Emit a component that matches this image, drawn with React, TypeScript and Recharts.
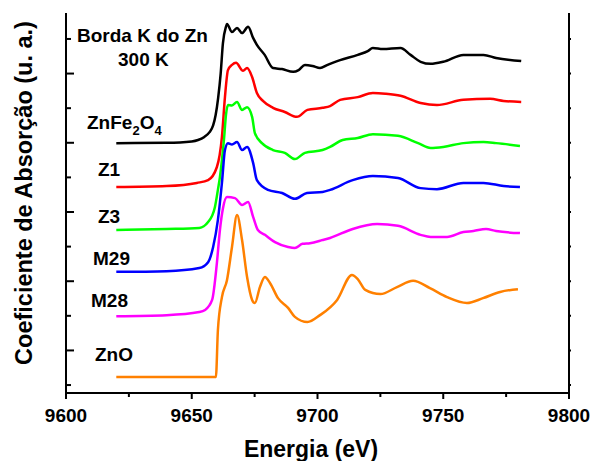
import React from 'react';
import { LineChart, Line, XAxis, YAxis } from 'recharts';

const FONT = '"Liberation Sans", Arial, Helvetica, sans-serif';

// energia (eV) x coeficiente de absorção normalizado, já deslocado (u. a.)
const zfE = [9620, 9640, 9650, 9652.5, 9655, 9657, 9658.5, 9659.5, 9660.5, 9661.5, 9662.4, 9663.6, 9664, 9666, 9668, 9670, 9672.4, 9674.4, 9675.9, 9679, 9682.3, 9685.9, 9690.3, 9692.5, 9695, 9698, 9701, 9704, 9709, 9716, 9720, 9722, 9726, 9733, 9737, 9741, 9745, 9750, 9758, 9766, 9771, 9781];
const zfMu = [6.99, 7.0, 7.04, 7.08, 7.17, 7.3, 7.5, 7.8, 8.3, 9.0, 9.88, 10.35, 10.43, 10.2, 10.32, 10.17, 10.35, 10.03, 9.83, 9.54, 9.16, 9.13, 9.05, 9.1, 9.25, 9.22, 9.16, 9.25, 9.39, 9.54, 9.65, 9.74, 9.71, 9.74, 9.54, 9.34, 9.28, 9.34, 9.54, 9.54, 9.45, 9.36];

const z1E = [9620, 9640, 9652, 9656.5, 9660, 9662, 9663.2, 9664.4, 9666, 9667.6, 9670.4, 9672, 9674, 9675.9, 9678.3, 9682.3, 9687, 9691.8, 9696, 9702, 9705, 9709, 9716, 9722, 9727, 9733, 9741, 9747.5, 9758, 9768.6, 9774, 9781];
const z1Mu = [5.72, 5.75, 5.84, 5.92, 6.3, 7.17, 8.32, 9.1, 9.25, 9.31, 9.08, 9.16, 8.9, 8.44, 8.21, 8.01, 7.89, 7.75, 7.95, 8.01, 8.06, 8.24, 8.32, 8.44, 8.42, 8.36, 8.15, 8.09, 8.24, 8.27, 8.21, 8.18];

const z3E = [9620, 9640, 9653, 9656.5, 9659.2, 9660.4, 9661.2, 9662, 9662.8, 9663.6, 9664.4, 9666, 9668, 9670, 9672, 9674, 9675.1, 9677.9, 9682.3, 9687, 9691, 9695, 9702, 9705, 9710, 9716, 9722, 9732, 9740, 9745, 9750, 9758, 9766, 9771, 9780.5];
const z3Mu = [4.48, 4.51, 4.54, 4.71, 5.14, 5.64, 6.01, 6.5, 7.08, 7.8, 8.09, 8.08, 8.18, 7.95, 8.03, 7.75, 7.28, 6.99, 6.79, 6.71, 6.53, 6.71, 6.79, 6.88, 7.08, 7.14, 7.25, 7.2, 6.99, 6.85, 6.88, 6.99, 7.02, 6.99, 6.91];

const m29E = [9620, 9640, 9653, 9656.5, 9658.5, 9660.4, 9662, 9663.2, 9664.4, 9666, 9668, 9670, 9672, 9674.4, 9675.9, 9680.3, 9685.9, 9691, 9695.8, 9702, 9705, 9714, 9722, 9732, 9741, 9747.5, 9758, 9766, 9774, 9780.5];
const m29Mu = [3.27, 3.29, 3.38, 3.55, 3.99, 4.77, 5.84, 6.79, 6.99, 6.95, 7.02, 6.79, 6.88, 6.42, 5.92, 5.64, 5.55, 5.38, 5.55, 5.58, 5.64, 5.92, 6.04, 5.98, 5.69, 5.66, 5.84, 5.84, 5.75, 5.72];

const m28E = [9620, 9640, 9653, 9655.3, 9658.1, 9660, 9661.2, 9662.4, 9664, 9667.2, 9670, 9672.4, 9674.4, 9676.3, 9679.1, 9683.1, 9688.3, 9691, 9694, 9697, 9702, 9705, 9714, 9723.7, 9732, 9741, 9745, 9751.5, 9758, 9762, 9767, 9771, 9780.5];
const m28Mu = [1.99, 2.02, 2.11, 2.17, 2.46, 3.53, 4.48, 5.1, 5.43, 5.4, 5.2, 5.29, 4.86, 4.48, 4.34, 4.13, 3.99, 3.96, 4.08, 4.1, 4.19, 4.25, 4.51, 4.65, 4.6, 4.34, 4.28, 4.28, 4.42, 4.45, 4.51, 4.45, 4.39];

const znoE = [9620, 9659.6, 9660.4, 9662, 9664, 9666, 9668, 9670, 9672, 9674, 9675.1, 9677.1, 9679.1, 9681.1, 9684.3, 9688.3, 9691, 9696, 9701, 9707.8, 9713.7, 9716, 9719, 9725, 9731.6, 9738, 9744.7, 9751.5, 9759.4, 9765.8, 9772.6, 9779.7];
const znoMu = [0.23, 0.23, 1.59, 2.54, 3.03, 3.99, 4.91, 4.19, 3.12, 2.46, 2.37, 2.83, 3.12, 2.95, 2.51, 2.23, 1.97, 1.82, 2.02, 2.46, 3.18, 3.06, 2.75, 2.63, 2.83, 3.01, 2.8, 2.54, 2.37, 2.51, 2.69, 2.77];

const X_TICKS = [9600, 9625, 9650, 9675, 9700, 9725, 9750, 9775, 9800];
const Y_TICKS = [0, 1, 2, 3, 4, 5, 6, 7, 8, 9, 10];

const rows = (e: number[], mu: number[]) => e.map((x, i) => ({ e: x, mu: mu[i] }));

const SERIES = [
  { key: 'ZnFe2O4', color: '#000000', data: rows(zfE, zfMu) },
  { key: 'Z1', color: '#ff0000', data: rows(z1E, z1Mu) },
  { key: 'Z3', color: '#00ff00', data: rows(z3E, z3Mu) },
  { key: 'M29', color: '#0000ff', data: rows(m29E, m29Mu) },
  { key: 'M28', color: '#ff00ff', data: rows(m28E, m28Mu) },
  { key: 'ZnO', color: '#ff8000', data: rows(znoE, znoMu) },
];

const AXIS_LINE = { stroke: '#000', strokeWidth: 2 };
const LBL = { fontFamily: FONT, fontWeight: 'bold' as const, fill: '#000' };

// marcas para dentro no eixo esquerdo: longas nos ímpares, curtas nos pares
const LeftTick = ({ x, y, payload }: any) => (
  <line x1={x} x2={x + (payload.value % 2 === 1 ? 8 : 5)} y1={y} y2={y} stroke="#000" strokeWidth={2} />
);
const RightTick = ({ x, y }: any) => <line x1={x} x2={x + 2} y1={y} y2={y} stroke="#000" strokeWidth={2} />;
const TopTick = ({ x, y }: any) => <line x1={x} x2={x} y1={y} y2={y + 3} stroke="#000" strokeWidth={2} />;
const BottomTick = ({ x, y, payload }: any) => {
  const major = payload.value % 50 === 0;
  return (
    <g>
      <line x1={x} x2={x} y1={y} y2={y + (major ? 6 : 4)} stroke="#000" strokeWidth={2} />
      {major && (
        <text x={x} y={y + 29} textAnchor="middle" fontSize={19} {...LBL}>{payload.value}</text>
      )}
    </g>
  );
};

export default function App() {
  return (
    <div style={{ position: 'relative', width: 592, height: 461, background: '#fff' }}>
      <style>{'body{margin:0}'}</style>
      <LineChart width={592} height={461} data={SERIES[0].data} margin={{ top: 13, right: 0, bottom: 0, left: 0 }}>
        <XAxis xAxisId="b" dataKey="e" type="number" domain={[9600, 9800]} allowDataOverflow ticks={X_TICKS} interval={0}
          height={68} axisLine={AXIS_LINE} tickLine={false} tickSize={0} tickMargin={0} tick={BottomTick} />
        <XAxis xAxisId="t" orientation="top" dataKey="e" type="number" domain={[9600, 9800]} allowDataOverflow ticks={X_TICKS} interval={0}
          height={0} axisLine={AXIS_LINE} tickLine={false} tickSize={0} tickMargin={0} tick={TopTick} />
        <YAxis yAxisId="l" type="number" domain={[-0.23, 10.75]} allowDataOverflow ticks={Y_TICKS} interval={0}
          width={66} axisLine={AXIS_LINE} tickLine={false} tickSize={0} tickMargin={0} tick={LeftTick} />
        <YAxis yAxisId="r" orientation="right" type="number" domain={[-0.23, 10.75]} allowDataOverflow ticks={Y_TICKS} interval={0}
          width={23} axisLine={AXIS_LINE} tickLine={false} tickSize={0} tickMargin={0} tick={RightTick} />
        {SERIES.map((s) => (
          <Line key={s.key} xAxisId="b" yAxisId="l" data={s.data} dataKey="mu" type="monotone" stroke={s.color}
            strokeWidth={2.5} dot={false} activeDot={false} isAnimationActive={false} />
        ))}
      </LineChart>
      <svg width={592} height={461} style={{ position: 'absolute', left: 0, top: 0, pointerEvents: 'none' }}>
        <text x={77} y={42} fontSize={19} {...LBL}>Borda K do Zn</text>
        <text x={118} y={66} fontSize={19} {...LBL}>300 K</text>
        <text x={87} y={129} fontSize={19} {...LBL}>
          ZnFe<tspan fontSize={13} dy={6}>2</tspan><tspan dy={-6}>O</tspan><tspan fontSize={13} dy={6}>4</tspan>
        </text>
        <text x={98} y={176} fontSize={19} {...LBL}>Z1</text>
        <text x={98} y={223} fontSize={19} {...LBL}>Z3</text>
        <text x={93} y={265} fontSize={19} {...LBL}>M29</text>
        <text x={91} y={307} fontSize={19} {...LBL}>M28</text>
        <text x={95} y={361} fontSize={19} {...LBL}>ZnO</text>
        <text x={311} y={457} textAnchor="middle" fontSize={23} {...LBL}>Energia (eV)</text>
        <text transform="translate(32,193) rotate(-90)" textAnchor="middle" fontSize={23.5} {...LBL}>
          Coeficiente de Absorção (u. a.)
        </text>
      </svg>
    </div>
  );
}
